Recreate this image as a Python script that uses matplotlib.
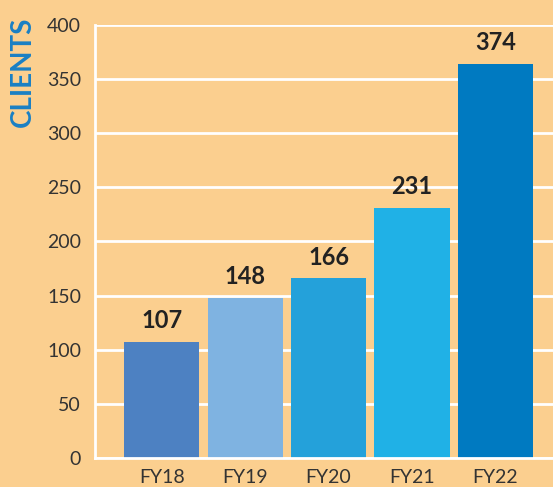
import matplotlib.pyplot as plt

years = ['FY18', 'FY19', 'FY20', 'FY21', 'FY22']
bar_heights = [107, 148, 166, 231, 364]
bar_labels = ['107', '148', '166', '231', '374']
bar_colors = ['#4D81C2', '#7FB3E1', '#24A1DA', '#20B1E6', '#007AC1']
yticks = [0, 50, 100, 150, 200, 250, 300, 350, 400]

bg = '#FBCF8F'
plt.rcParams['font.family'] = ['Lato', 'DejaVu Sans']

fig = plt.figure(figsize=(5.53, 4.87), dpi=100, facecolor=bg)
ax = fig.add_axes([95 / 553, 29 / 487, 458 / 553, 433 / 487])
ax.set_facecolor(bg)

x = range(len(years))
ax.bar(x, bar_heights, width=0.9, color=bar_colors, zorder=3)
for xi, h, lab in zip(x, bar_heights, bar_labels):
    ax.text(xi, h + 9, lab, ha='center', va='bottom', fontsize=17,
            fontweight='bold', color='#222222', zorder=4)

ax.set_ylim(0, 400)
ax.set_xlim(-0.8, 4.69)
ax.set_yticks(yticks)
ax.set_xticks(list(x))
ax.set_xticklabels(years)
ax.tick_params(axis='both', length=0, labelsize=14, colors='#333333')
ax.tick_params(axis='y', pad=10)
ax.tick_params(axis='x', pad=8)
ax.yaxis.grid(True, color='white', linewidth=2, zorder=1)
ax.set_axisbelow(True)

for side in ['top', 'right']:
    ax.spines[side].set_visible(False)
for side in ['left', 'bottom']:
    ax.spines[side].set_color('white')
    ax.spines[side].set_linewidth(2)
    ax.spines[side].set_zorder(5)

fig.text(23 / 553, 1 - 72 / 487, 'CLIENTS', rotation=90, ha='center', va='center',
         fontsize=20, fontweight='bold', color='#1A80C4')

fig.savefig('out.png', dpi=100, facecolor=bg)
